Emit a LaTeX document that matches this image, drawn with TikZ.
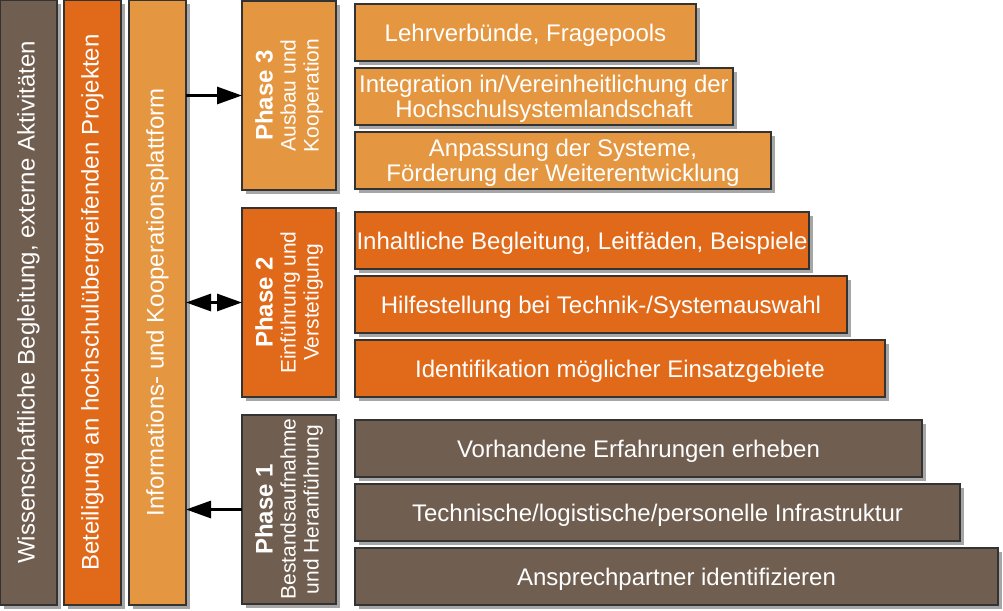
\documentclass[tikz,border=0pt]{standalone}
\usepackage{fontspec}
\setmainfont{Liberation Sans}
\usetikzlibrary{positioning,shadows,arrows.meta}

\definecolor{phaseone}{HTML}{705E50}
\definecolor{phasetwo}{HTML}{E06A1A}
\definecolor{phasethree}{HTML}{E59640}

\newcommand{\phasetext}[3]{\rotatebox{90}{\parbox{180pt}{\centering\fontsize{24}{25}\selectfont\bfseries #1\par
    \fontsize{21}{23}\selectfont\mdseries #2\\#3}}}

\begin{document}
\begin{tikzpicture}[
    x=1pt, y=1pt,
    font=\fontsize{24}{25}\selectfont,
    box/.style={rectangle, draw=black!80, line width=1.5pt, text=white, inner sep=0pt, outer sep=0pt, align=center,
        drop shadow={shadow xshift=4pt, shadow yshift=-4pt, fill=black, opacity=0.35}},
    column/.style={box, minimum width=57pt, minimum height=605pt},
    phase/.style={box, minimum width=94pt, minimum height=189pt},
    item/.style={box, minimum height=57pt, text depth=0pt},
    arrow/.style={-{Triangle[length=25pt,width=17pt]}, line width=3pt},
    dblarrow/.style={{Triangle[length=25pt,width=17pt]}-{Triangle[length=25pt,width=17pt]}, line width=3pt}
]
\useasboundingbox (0,0) rectangle (1003,-610);

% Columns on the left
\node[column, fill=phaseone, anchor=north west] (science) at (0,0) {\rotatebox{90}{Wissenschaftliche Begleitung, externe Aktivitäten}};
\node[column, fill=phasetwo, right=7pt of science.north east, anchor=north west] (projects) {\rotatebox{90}{Beteiligung an hochschulübergreifenden Projekten}};
\node[column, fill=phasethree, right=8pt of projects.north east, anchor=north west] (platform) {\rotatebox{90}{Informations- und Kooperationsplattform}};

% Phases
\node[phase, fill=phasethree, anchor=north west] (phase3) at (242,-1) {\phasetext{Phase 3}{Ausbau und}{Kooperation}};
\node[phase, fill=phasetwo, below=18pt of phase3] (phase2) {\phasetext{Phase 2}{Einführung und}{Verstetigung}};
\node[phase, fill=phaseone, below=18pt of phase2] (phase1) {\phasetext{Phase 1}{Bestandsaufnahme}{und Heranführung}};

% Phase 3 steps
\node[item, fill=phasethree, minimum width=341pt, right=19pt of phase3.north east, anchor=north west, yshift=-3pt] (pools) {Lehrverbünde, Fragepools};
\node[item, fill=phasethree, minimum width=378pt, below=7pt of pools.south west, anchor=north west] (integration) {Integration in/Vereinheitlichung der\\Hochschulsystemlandschaft};
\node[item, fill=phasethree, minimum width=416pt, below=7pt of integration.south west, anchor=north west] (adaption) {Anpassung der Systeme,\\Förderung der Weiterentwicklung};

% Phase 2 steps
\node[item, fill=phasetwo, minimum width=454pt, right=19pt of phase2.north east, anchor=north west, yshift=-4pt] (guides) {Inhaltliche Begleitung, Leitfäden, Beispiele};
\node[item, fill=phasetwo, minimum width=492pt, below=7pt of guides.south west, anchor=north west] (selection) {Hilfestellung bei Technik-/Systemauswahl};
\node[item, fill=phasetwo, minimum width=530pt, below=7pt of selection.south west, anchor=north west] (fields) {Identifikation möglicher Einsatzgebiete};

% Phase 1 steps
\node[item, fill=phaseone, minimum width=567pt, right=19pt of phase1.north east, anchor=north west, yshift=-5pt] (survey) {Vorhandene Erfahrungen erheben};
\node[item, fill=phaseone, minimum width=605pt, below=7pt of survey.south west, anchor=north west] (infra) {Technische/logistische/personelle Infrastruktur};
\node[item, fill=phaseone, minimum width=643pt, below=7pt of infra.south west, anchor=north west] (contacts) {Ansprechpartner identifizieren};

% Connections
\draw[arrow] (platform.east |- phase3) -- (phase3);
\draw[dblarrow] (platform.east |- phase2) -- (phase2);
\draw[arrow] (phase1) -- (platform.east |- phase1);

\end{tikzpicture}
\end{document}
